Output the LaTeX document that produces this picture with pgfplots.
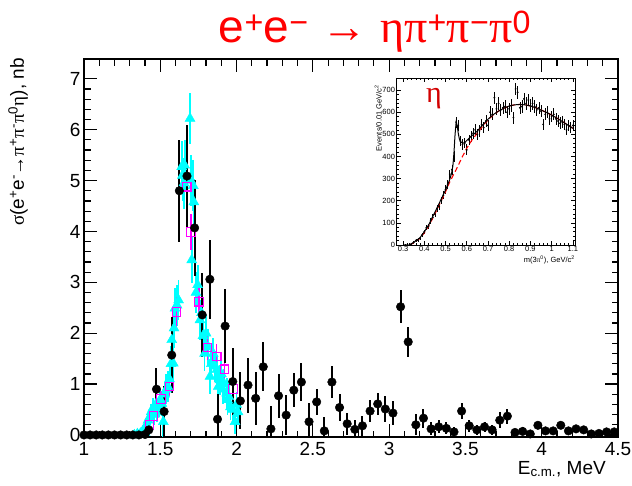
\documentclass[border=0pt]{standalone}
\usepackage{pgfplots}
\usepackage{pgfplotstable}
\pgfplotsset{compat=1.18}
\usepackage{fontspec}
\setmainfont{Liberation Sans}
\newfontfamily\gr{Liberation Serif}
\definecolor{rootcyan}{RGB}{0,255,255}
\definecolor{rootmag}{RGB}{255,0,255}
\definecolor{rootred}{RGB}{255,0,0}
\definecolor{etared}{RGB}{210,0,0}

\pgfplotstableread{
x y ey
1.00 0 0
1.04 0 0
1.08 0 0
1.12 0 0
1.16 0 0
1.20 0 0
1.24 0 0
1.28 0 0
1.32 0 0
1.36 0 0
1.40 0.01 0
1.425 0.10 0.10
1.475 0.90 0.41
1.525 0.46 0.50
1.575 1.57 0.75
1.625 4.80 1.00
1.675 5.09 1.00
1.725 4.07 0.95
1.775 2.36 0.82
1.825 3.06 0.78
1.875 0.31 0.50
1.925 2.14 0.73
1.975 1.05 0.66
2.025 0.67 0.56
2.075 0.98 0.54
2.125 0.72 0.52
2.175 1.34 0.48
2.225 0.12 0.44
2.275 0.77 0.43
2.325 0.39 0.39
2.375 0.88 0.34
2.425 1.04 0.38
2.475 0.26 0.36
2.525 0.65 0.26
2.575 0.08 0.28
2.625 1.04 0.31
2.675 0.54 0.27
2.725 0.22 0.22
2.775 0.11 0.18
2.825 0.18 0.20
2.875 0.47 0.22
2.925 0.61 0.22
2.975 0.51 0.25
3.025 0.43 0.24
3.075 2.52 0.32
3.125 1.83 0.30
3.175 0.20 0.21
3.225 0.33 0.19
3.275 0.12 0.13
3.325 0.16 0.13
3.375 0.13 0.12
3.425 0.06 0.10
3.475 0.47 0.15
3.525 0.18 0.12
3.575 0.10 0.10
3.625 0.16 0.10
3.675 0.10 0.10
3.725 0.29 0.16
3.775 0.37 0.15
3.825 0.05 0.06
3.875 0.07 0.08
3.925 0.02 0.06
3.975 0.19 0.06
4.025 0.08 0.06
4.075 0.08 0.06
4.125 0.19 0.06
4.175 0.08 0.06
4.225 0.12 0.06
4.275 0.10 0.06
4.325 0.02 0.05
4.375 0.03 0.05
4.425 0.06 0.05
4.475 0.06 0.05
}\blackdata

\pgfplotstableread{
x y ey
1.33 0.00 0.05
1.35 0.02 0.05
1.37 0.03 0.06
1.39 0.10 0.08
1.40 0.05 0.10
1.41 0.20 0.10
1.42 0.29 0.12
1.43 0.35 0.15
1.44 0.45 0.15
1.45 0.52 0.20
1.46 0.40 0.20
1.47 0.60 0.20
1.48 0.45 0.20
1.49 0.55 0.20
1.50 0.70 0.20
1.51 0.62 0.25
1.52 0.26 0.30
1.53 0.80 0.25
1.54 0.90 0.30
1.55 0.95 0.30
1.56 1.10 0.30
1.57 1.40 0.35
1.575 1.87 0.35
1.585 1.41 0.35
1.59 2.10 0.40
1.596 2.49 0.40
1.61 2.55 0.40
1.62 2.65 0.40
1.64 5.27 0.50
1.645 5.10 0.50
1.655 4.95 0.50
1.66 5.30 0.50
1.695 6.22 0.50
1.70 5.00 0.50
1.706 3.44 0.45
1.716 4.90 0.50
1.72 4.58 0.45
1.734 2.80 0.40
1.745 2.95 0.40
1.76 2.26 0.40
1.77 2.40 0.40
1.78 1.95 0.35
1.79 1.60 0.35
1.80 2.00 0.35
1.815 1.73 0.35
1.826 1.15 0.35
1.835 1.40 0.30
1.847 1.60 0.30
1.86 1.35 0.30
1.87 1.28 0.30
1.88 0.95 0.30
1.89 1.08 0.30
1.90 1.20 0.30
1.91 0.90 0.30
1.92 1.00 0.30
1.935 0.82 0.30
1.94 0.69 0.30
1.95 0.75 0.30
1.96 0.55 0.25
1.975 0.50 0.25
1.99 0.26 0.25
2.00 0.60 0.25
2.01 0.45 0.25
}\cyandata

\pgfplotstableread{
x y ey
1.43 0.20 0.10
1.455 0.37 0.12
1.505 0.71 0.15
1.56 0.95 0.18
1.607 2.42 0.30
1.673 4.88 0.40
1.70 3.99 0.35
1.755 2.62 0.30
1.81 1.72 0.25
1.87 1.54 0.25
1.92 1.29 0.22
1.975 0.90 0.20
}\magdata

\pgfplotstableread{
x y ey
0.31 0 3
0.32 2 4
0.33 3 4
0.34 5 5
0.35 12 6
0.36 20 7
0.37 22 8
0.38 30 8
0.39 45 10
0.40 60 10
0.41 78 12
0.42 85 12
0.43 110 13
0.44 125 14
0.45 140 15
0.46 165 16
0.47 175 16
0.48 200 17
0.49 225 18
0.50 250 19
0.51 275 20
0.52 320 21
0.53 340 22
0.54 400 23
0.55 555 25
0.56 540 25
0.57 470 24
0.58 455 24
0.59 460 24
0.60 430 24
0.61 475 24
0.62 490 25
0.63 505 25
0.64 520 25
0.65 500 25
0.66 515 25
0.67 545 26
0.68 530 25
0.69 560 26
0.70 540 26
0.71 600 27
0.72 590 27
0.73 665 28
0.74 615 27
0.75 640 28
0.76 610 27
0.77 620 27
0.78 625 28
0.79 600 27
0.80 615 27
0.81 630 28
0.82 575 27
0.83 705 29
0.84 690 29
0.85 620 28
0.86 625 28
0.87 660 28
0.88 640 28
0.89 655 28
0.90 630 28
0.91 640 28
0.92 625 28
0.93 610 27
0.94 620 27
0.95 605 27
0.96 545 26
0.97 590 27
0.98 600 27
0.99 570 26
1.00 580 26
1.01 590 27
1.02 570 26
1.03 560 26
1.04 550 26
1.05 555 26
1.06 545 26
1.07 520 25
1.08 540 25
1.09 530 25
1.10 540 25
}\insetdata

\begin{document}
\begin{tikzpicture}
\useasboundingbox (-84pt,-48pt) rectangle (548pt,437pt);
\begin{axis}[
  at={(0pt,0pt)}, anchor=south west,
  scale only axis, width=534pt, height=378pt,
  xmin=1, xmax=4.5, ymin=-0.04, ymax=7.39,
  axis line style={line width=1.4pt},
  tick style={line width=1.2pt, black},
  tick align=inside, xtick pos=both, ytick pos=both,
  major tick length=13pt, minor tick length=6.5pt,
  xtick={1,1.5,2,2.5,3,3.5,4,4.5},
  xticklabels={1,1.5,2,2.5,3,3.5,4,4.5},
  ytick={0,1,2,3,4,5,6,7},
  yticklabels={0,1,2,3,4,5,6,7},
  minor x tick num=4, minor y tick num=4,
  ticklabel style={font=\fontsize{19}{22}\selectfont},
  xticklabel style={yshift=-2pt},
  /pgf/number format/assume math mode=true,
]
\addplot[only marks, mark=triangle*, mark size=5.8pt, rootcyan,
  error bars/.cd, y dir=both, y explicit, error mark=none,
  error bar style={line width=1.8pt, rootcyan}]
  table[x=x, y=y, y error=ey]{\cyandata};
\addplot[only marks, mark=square, mark size=4.3pt, rootmag, mark options={line width=1.1pt, fill=none},
  error bars/.cd, y dir=both, y explicit, error mark=none,
  error bar style={line width=1.5pt, rootmag}]
  table[x=x, y=y, y error=ey]{\magdata};
\addplot[only marks, mark=*, mark size=4.3pt, black,
  error bars/.cd, y dir=both, y explicit, error mark=none,
  error bar style={line width=2pt, black}]
  table[x=x, y=y, y error=ey]{\blackdata};
\end{axis}

\begin{axis}[
  at={(312.7pt,192pt)}, anchor=south west,
  scale only axis, width=178.3pt, height=166.7pt,
  xmin=0.27, xmax=1.11, ymin=0, ymax=753,
  axis line style={line width=0.7pt},
  tick style={line width=0.6pt, black},
  tick align=inside, xtick pos=both, ytick pos=both,
  major tick length=4pt, minor tick length=2pt,
  xtick={0.3,0.4,0.5,0.6,0.7,0.8,0.9,1.0,1.1},
  xticklabels={0.3,0.4,0.5,0.6,0.7,0.8,0.9,1,1.1},
  ytick={0,100,200,300,400,500,600,700},
  yticklabels={0,100,200,300,400,500,600,700},
  minor x tick num=4, minor y tick num=4,
  ticklabel style={font=\fontsize{7.5}{9}\selectfont, inner sep=1.5pt},
  /pgf/number format/assume math mode=true,
]
\addplot[only marks, mark=*, mark size=0.7pt, black,
  error bars/.cd, y dir=both, y explicit, error mark=none,
  error bar style={line width=0.6pt, black}]
  table[x=x, y=y, y error=ey]{\insetdata};
\addplot[rootred, line width=1.1pt, dash pattern=on 5pt off 3pt] coordinates {
(0.33,0) (0.35,10) (0.38,30) (0.40,55) (0.42,85) (0.45,140) (0.48,200) (0.50,240)
(0.52,285) (0.55,340) (0.58,400) (0.60,437) (0.625,475) (0.65,505) (0.675,537) (0.70,565)
(0.725,588) (0.75,605) (0.775,618) (0.80,628) (0.825,633) (0.85,635) (0.875,633) (0.90,628)
(0.925,620) (0.95,610) (0.975,599) (1.00,587) (1.025,573) (1.05,558) (1.075,543) (1.10,527)};
\addplot[black, line width=1pt] coordinates {
(0.33,0) (0.35,12) (0.38,33) (0.40,60) (0.42,90) (0.45,148) (0.48,208) (0.50,248)
(0.52,296) (0.53,330) (0.535,360) (0.54,420) (0.545,500) (0.55,555) (0.555,540) (0.56,505)
(0.565,480) (0.57,468) (0.58,460) (0.59,462) (0.60,472) (0.62,490) (0.65,515) (0.675,542)
(0.70,568) (0.725,589) (0.75,605) (0.775,618) (0.80,628) (0.825,633) (0.85,635) (0.875,633)
(0.90,628) (0.925,620) (0.95,610) (0.975,599) (1.00,587) (1.025,573) (1.05,558) (1.075,543) (1.10,527)};
\end{axis}

% titles and labels
\node[anchor=base, text=rootred, font=\fontsize{46}{52}\selectfont, inner sep=0pt]
  at (291pt,394pt) {e\textsuperscript{+}e\textsuperscript{−} → {\gr ηπ}\textsuperscript{+}{\gr π}\textsuperscript{−}{\gr π}\textsuperscript{0}};
\node[rotate=90, anchor=base east, font=\fontsize{19}{22}\selectfont, inner sep=0pt]
  at (-60pt,379pt) {{\gr σ}(e\textsuperscript{+}e\textsuperscript{-}→{\gr π}\textsuperscript{+}{\gr π}\textsuperscript{-}{\gr π}\textsuperscript{0}{\gr η}), nb};
\node[anchor=base east, font=\fontsize{19}{22}\selectfont, inner sep=0pt]
  at (522pt,-37pt) {E\textsubscript{c.m.}, MeV};
\node[rotate=90, anchor=base east, font=\fontsize{7.5}{9}\selectfont, inner sep=0pt]
  at (297.5pt,352pt) {Events/0.01 GeV/c\textsuperscript{2}};
\node[anchor=base east, font=\fontsize{7.5}{9}\selectfont, inner sep=0pt]
  at (491pt,174.7pt) {m(3{\gr π}\textsuperscript{0}), GeV/c\textsuperscript{2}};
\node[anchor=base, text=etared, font=\gr\fontsize{30}{34}\selectfont, inner sep=0pt]
  at (350pt,334pt) {η};
\end{tikzpicture}
\end{document}
